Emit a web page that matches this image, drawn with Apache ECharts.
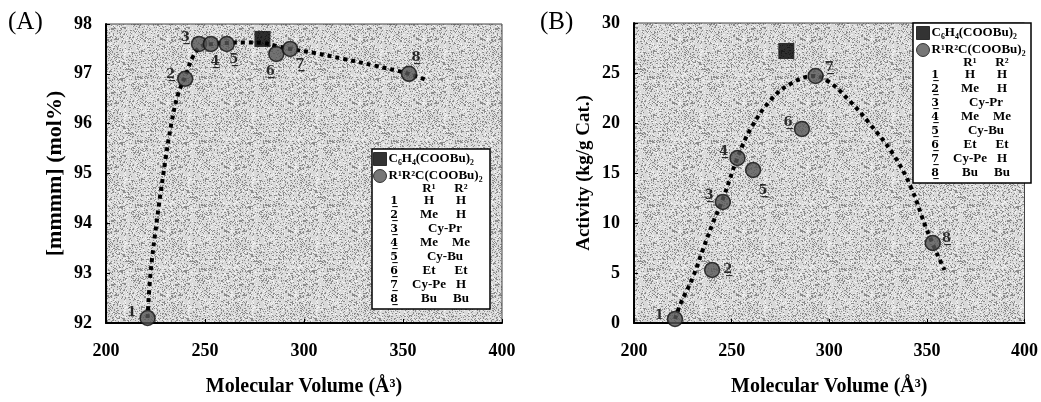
<!DOCTYPE html>
<html>
<head>
<meta charset="utf-8">
<script src="https://cdn.jsdelivr.net/npm/echarts@6/dist/echarts.min.js"></script>
<style>
html, body { margin: 0; background: #fff; }
#main { width: 1041px; height: 402px; }
</style>
</head>
<body>
<div id="main"></div>
<script>
// malonates: molecular volume vs. [mmmm] (A) and activity (B)
var volA = [221, 240, 247, 253, 261, 286, 293, 353];
var mmmm = [92.1, 96.9, 97.6, 97.6, 97.6, 97.4, 97.5, 97.0];
var volB = [221, 240, 245.5, 253, 261, 286, 293, 353];
var activity = [0.4, 5.3, 12.1, 16.5, 15.3, 19.4, 24.7, 8.0];

// phthalate reference
var refVolA = [279];
var refMmmm = [97.7];
var refVolB = [278];
var refActivity = [27.2];

// dotted guide curves
var curveAx = [221, 222.5, 225.5, 229, 233, 236.5, 240.5, 244, 248, 254, 262, 270, 279, 286, 293, 305, 320, 335, 353, 362];
var curveAy = [92.1, 93, 94, 95, 96, 96.6, 97.0, 97.35, 97.55, 97.6, 97.62, 97.63, 97.62, 97.56, 97.5, 97.42, 97.3, 97.17, 97.0, 96.87];
var curveBx = [221, 224, 230, 235, 240, 245.5, 253, 260, 270, 280, 292, 300, 310, 320, 333, 342, 350, 359];
var curveBy = [0.4, 2, 4.5, 7.2, 9.8, 12.4, 16.5, 19.5, 22.3, 23.9, 24.7, 24.1, 22.3, 20.1, 16.8, 13.5, 9.3, 5.3];

var pointNums = ['1', '2\u0332', '3\u0332', '4\u0332', '5\u0332', '6\u0332', '7\u0332', '8\u0332'];
var tableNums = ['1\u0332', '2\u0332', '3\u0332', '4\u0332', '5\u0332', '6\u0332', '7\u0332', '8\u0332'];
var tableR1 = ['H', 'Me', 'Cy-Pr', 'Me', 'Cy-Bu', 'Et', 'Cy-Pe', 'Bu'];
var tableR2 = ['H', 'H', '', 'Me', '', 'Et', 'H', 'Bu'];

var nameRef = 'C\u2086H\u2084(COOBu)\u2082';
var nameMal = 'R\u00b9R\u00b2C(COOBu)\u2082';

var serif = "'Liberation Serif', 'Times New Roman', serif";
var markFont = "'DejaVu Serif', serif";

// label placement for the numbered points
var labPosA = ['left', 'left', 'left', 'bottom', 'bottom', 'bottom', 'bottom', 'top'];
var labOffA = [[1, -5], [2, -4], [3, -6], [4, -1], [7, -3], [-6, -1], [10, -3], [7, 3]];
var labPosB = ['left', 'right', 'left', 'left', 'bottom', 'left', 'right', 'right'];
var labOffB = [[1, -3], [-1, 0], [3, -6], [3, -6], [10, 2], [3, -6], [-3, -8], [-3, -4]];

// soft speckle for the scanned plot area (fixed hash, not data)
function speckle() {
    var c = document.createElement('canvas');
    c.width = 64; c.height = 64;
    var ctx = c.getContext('2d');
    ctx.fillStyle = '#d9d9d9';
    ctx.fillRect(0, 0, 64, 64);
    for (var y = 0; y < 64; y++) {
        for (var x = 0; x < 64; x++) {
            var h = Math.sin(x * 12.9898 + y * 78.233) * 43758.5453;
            h = h - Math.floor(h);
            if (h < 0.22) {
                ctx.fillStyle = '#8c8c8c';
                ctx.fillRect(x, y, 1, 1);
            } else if (h > 0.85) {
                ctx.fillStyle = '#f2f2f2';
                ctx.fillRect(x, y, 1, 1);
            }
        }
    }
    return { image: c, repeat: 'repeat' };
}
var plotFill = speckle();

var dom = document.getElementById('main');
var myChart = echarts.init(dom, null, { renderer: 'canvas' });

function pairs(xs, ys) {
    return xs.map(function (x, i) { return [x, ys[i]]; });
}

function pointData(xs, ys, pos, off) {
    return xs.map(function (x, i) {
        return {
            value: [x, ys[i]],
            label: { show: true, formatter: pointNums[i], position: pos[i], offset: off[i], distance: 4 }
        };
    });
}

function xAxisFor(idx) {
    return {
        gridIndex: idx, type: 'value', min: 200, max: 400, interval: 50,
        name: 'Molecular Volume (\u00c5\u00b3)', nameLocation: 'middle', nameGap: 54,
        nameTextStyle: { fontFamily: serif, fontWeight: 'bold', fontSize: 20, color: '#000' },
        axisLine: { lineStyle: { color: '#000', width: 2 } },
        axisTick: { inside: true, length: 4, lineStyle: { color: '#000' } },
        axisLabel: { fontFamily: serif, fontWeight: 'bold', fontSize: 18, color: '#000', margin: 19 },
        splitLine: { show: false }
    };
}

function yAxisFor(idx, min, max, step, name, nameSize) {
    return {
        gridIndex: idx, type: 'value', min: min, max: max, interval: step,
        name: name, nameLocation: 'middle', nameGap: 40,
        nameTextStyle: { fontFamily: serif, fontWeight: 'bold', fontSize: nameSize, color: '#000' },
        axisLine: { lineStyle: { color: '#000', width: 2 } },
        axisTick: { inside: true, length: 4, lineStyle: { color: '#000' } },
        axisLabel: { fontFamily: serif, fontWeight: 'bold', fontSize: 18, color: '#000', margin: 14 },
        splitLine: { show: false }
    };
}

function legendBox(x0, y0) {
    var st = { fontFamily: serif, fontWeight: 'bold', fontSize: 13, fill: '#000', align: 'center', verticalAlign: 'middle' };
    var els = [{
        type: 'rect', z: 3,
        shape: { x: x0, y: y0, width: 118, height: 160 },
        style: { fill: '#fff', stroke: '#000', lineWidth: 1.5 }
    }, {
        type: 'text', z: 5, x: x0 + 57, y: y0 + 40, style: Object.assign({}, st, { text: 'R\u00b9' })
    }, {
        type: 'text', z: 5, x: x0 + 89, y: y0 + 40, style: Object.assign({}, st, { text: 'R\u00b2' })
    }];
    tableNums.forEach(function (n, i) {
        var y = y0 + 52 + i * 14;
        els.push({ type: 'text', z: 5, x: x0 + 22, y: y, style: Object.assign({}, st, { text: n, fontFamily: markFont, fontSize: 11 }) });
        if (tableR2[i]) {
            els.push({ type: 'text', z: 5, x: x0 + 57, y: y, style: Object.assign({}, st, { text: tableR1[i] }) });
            els.push({ type: 'text', z: 5, x: x0 + 89, y: y, style: Object.assign({}, st, { text: tableR2[i] }) });
        } else {
            els.push({ type: 'text', z: 5, x: x0 + 73, y: y, style: Object.assign({}, st, { text: tableR1[i] }) });
        }
    });
    return els;
}

var circleStyle = { color: '#555', borderColor: '#111', borderWidth: 1.5 };
var labelStyle = { fontFamily: markFont, fontWeight: 'bold', fontSize: 13, color: '#000' };
var curveStyle = { color: '#000', width: 4, type: [4, 4] };

var legendCommon = {
    orient: 'vertical', itemWidth: 13, itemHeight: 13, itemGap: 3, padding: 0, z: 4,
    textStyle: { fontFamily: serif, fontWeight: 'bold', fontSize: 13, color: '#000', padding: [0, 0, 0, -3] },
    itemStyle: { borderColor: '#111', borderWidth: 1 },
    data: [
        { name: nameRef, icon: 'rect' },
        { name: nameMal, icon: 'circle' }
    ],
    selectedMode: false
};

var option = {
    animation: false,
    backgroundColor: '#fff',
    grid: [
        { left: 106, top: 24, right: 539, bottom: 78, show: true, backgroundColor: plotFill, borderColor: '#444', borderWidth: 1 },
        { left: 634, top: 23, right: 13, bottom: 76, show: true, backgroundColor: plotFill, borderColor: '#444', borderWidth: 1 }
    ],
    xAxis: [xAxisFor(0), xAxisFor(1)],
    yAxis: [
        yAxisFor(0, 92, 98, 1, '[mmmm] (mol%)', 22),
        yAxisFor(1, 0, 30, 5, 'Activity (kg/g Cat.)', 19)
    ],
    legend: [
        Object.assign({ left: 373, top: 152 }, legendCommon),
        Object.assign({ left: 916, top: 26 }, legendCommon)
    ],
    graphic: [
        { type: 'text', left: 8, top: 10, style: { text: '(A)', fontFamily: serif, fontSize: 25, fill: '#000' } },
        { type: 'text', left: 540, top: 10, style: { text: '(B)', fontFamily: serif, fontSize: 25, fill: '#000' } }
    ].concat(legendBox(372, 149), legendBox(913, 23)),
    series: [
        {
            name: 'curveA', type: 'line', xAxisIndex: 0, yAxisIndex: 0, smooth: 0.4,
            showSymbol: false, lineStyle: curveStyle, data: pairs(curveAx, curveAy), z: 2
        },
        {
            name: nameMal, type: 'scatter', xAxisIndex: 0, yAxisIndex: 0, symbol: 'circle', symbolSize: 15,
            itemStyle: circleStyle, label: labelStyle, data: pointData(volA, mmmm, labPosA, labOffA), z: 3
        },
        {
            name: nameRef, type: 'scatter', xAxisIndex: 0, yAxisIndex: 0, symbol: 'rect', symbolSize: 16,
            itemStyle: { color: '#000' }, data: pairs(refVolA, refMmmm), z: 3
        },
        {
            name: 'curveB', type: 'line', xAxisIndex: 1, yAxisIndex: 1, smooth: 0.4,
            showSymbol: false, lineStyle: curveStyle, data: pairs(curveBx, curveBy), z: 2
        },
        {
            name: nameMal, type: 'scatter', xAxisIndex: 1, yAxisIndex: 1, symbol: 'circle', symbolSize: 15,
            itemStyle: circleStyle, label: labelStyle, data: pointData(volB, activity, labPosB, labOffB), z: 3
        },
        {
            name: nameRef, type: 'scatter', xAxisIndex: 1, yAxisIndex: 1, symbol: 'rect', symbolSize: 16,
            itemStyle: { color: '#000' }, data: pairs(refVolB, refActivity), z: 3
        }
    ]
};

if (option && typeof option === 'object') {
    myChart.setOption(option);
}

window.addEventListener('resize', myChart.resize);
</script>
</body>
</html>
